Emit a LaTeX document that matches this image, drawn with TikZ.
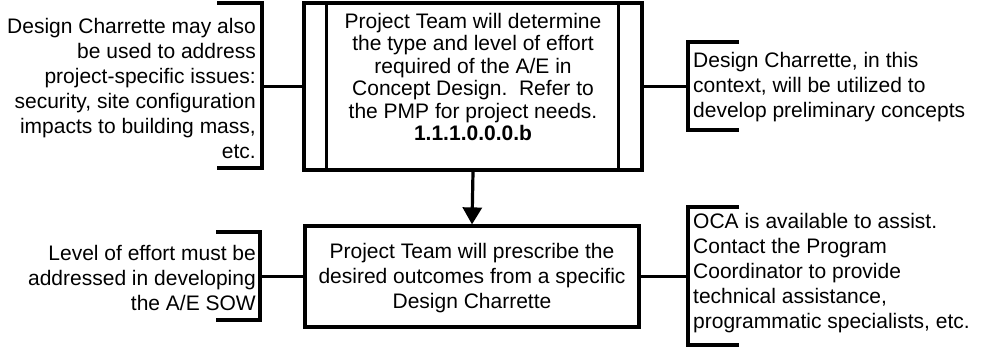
\documentclass[tikz,border=0pt]{standalone}
\usepackage{fontspec}
\setmainfont{Liberation Sans}
\usetikzlibrary{arrows.meta,calc}
\begin{document}
\begin{tikzpicture}[x=1pt,y=-1pt,
  ln/.style={line width=3.2pt,line join=miter},
  box/.style={draw,ln,fill=white,inner sep=0pt},
  txt/.style={inner sep=0pt,font=\fontsize{21}{25}\selectfont},
  arr/.style={ln,-{Triangle[width=19pt,length=17pt]}}]
\useasboundingbox (0,0) rectangle (981,348);
% top box
\node[box,minimum width=338pt,minimum height=167pt] (tb) at (473,86.5) {};
\draw[ln] ($(tb.north west)+(24,0)$) -- ($(tb.south west)+(24,0)$);
\draw[ln] ($(tb.north east)+(-25,0)$) -- ($(tb.south east)+(-25,0)$);
\node[txt,align=center,font=\fontsize{21}{22.5}\selectfont] (tbt) at (473,77)
 {Project Team will determine\\the type and level of effort\\required of the A/E in\\Concept Design.\ \ Refer to\\the PMP for project needs.\\\textbf{1.1.1.0.0.0.b}};
% bottom box
\node[box,minimum width=334pt,minimum height=101pt] (bb) at (472,276.5) {};
\node[txt,align=center] (bbt) at (472,278)
 {Project Team will prescribe the\\desired outcomes from a specific\\Design Charrette};
\draw[arr] (tb.south) -- (bb.north);
% top-left bracket
\node[txt,align=right,anchor=east] (tlt) at (256,88)
 {Design Charrette may also\\be used to address\\project-specific issues:\\security, site configuration\\impacts to building mass,\\etc.};
\coordinate (tlb) at (262,86.5);
\draw[ln] (217,3) -- (262,3) -- (262,168) -- (217,168);
\draw[ln] (tb.west) -- (tlb);
% top-right bracket
\node[txt,align=left,anchor=west] (trt) at (693,87)
 {Design Charrette, in this\\context, will be utilized to\\develop preliminary concepts};
\coordinate (trb) at (688,86.5);
\draw[ln] (739,42) -- (688,42) -- (688,130) -- (739,130);
\draw[ln] (tb.east) -- (trb);
% bottom-left bracket
\node[txt,align=right,anchor=east] (blt) at (256,277.5)
 {Level of effort must be\\addressed in developing\\the A/E SOW};
\coordinate (blb) at (260,276.5);
\draw[ln] (216,232) -- (260,232) -- (260,320) -- (216,320);
\draw[ln] (bb.west) -- (blb);
% bottom-right bracket
\node[txt,align=left,anchor=west] (brt) at (693,273.5)
 {OCA is available to assist.\\Contact the Program\\Coordinator to provide\\technical assistance,\\programmatic specialists, etc.};
\coordinate (brb) at (688,276.5);
\draw[ln] (739,207) -- (688,207) -- (688,345) -- (739,345);
\draw[ln] (bb.east) -- (brb);
\end{tikzpicture}
\end{document}
